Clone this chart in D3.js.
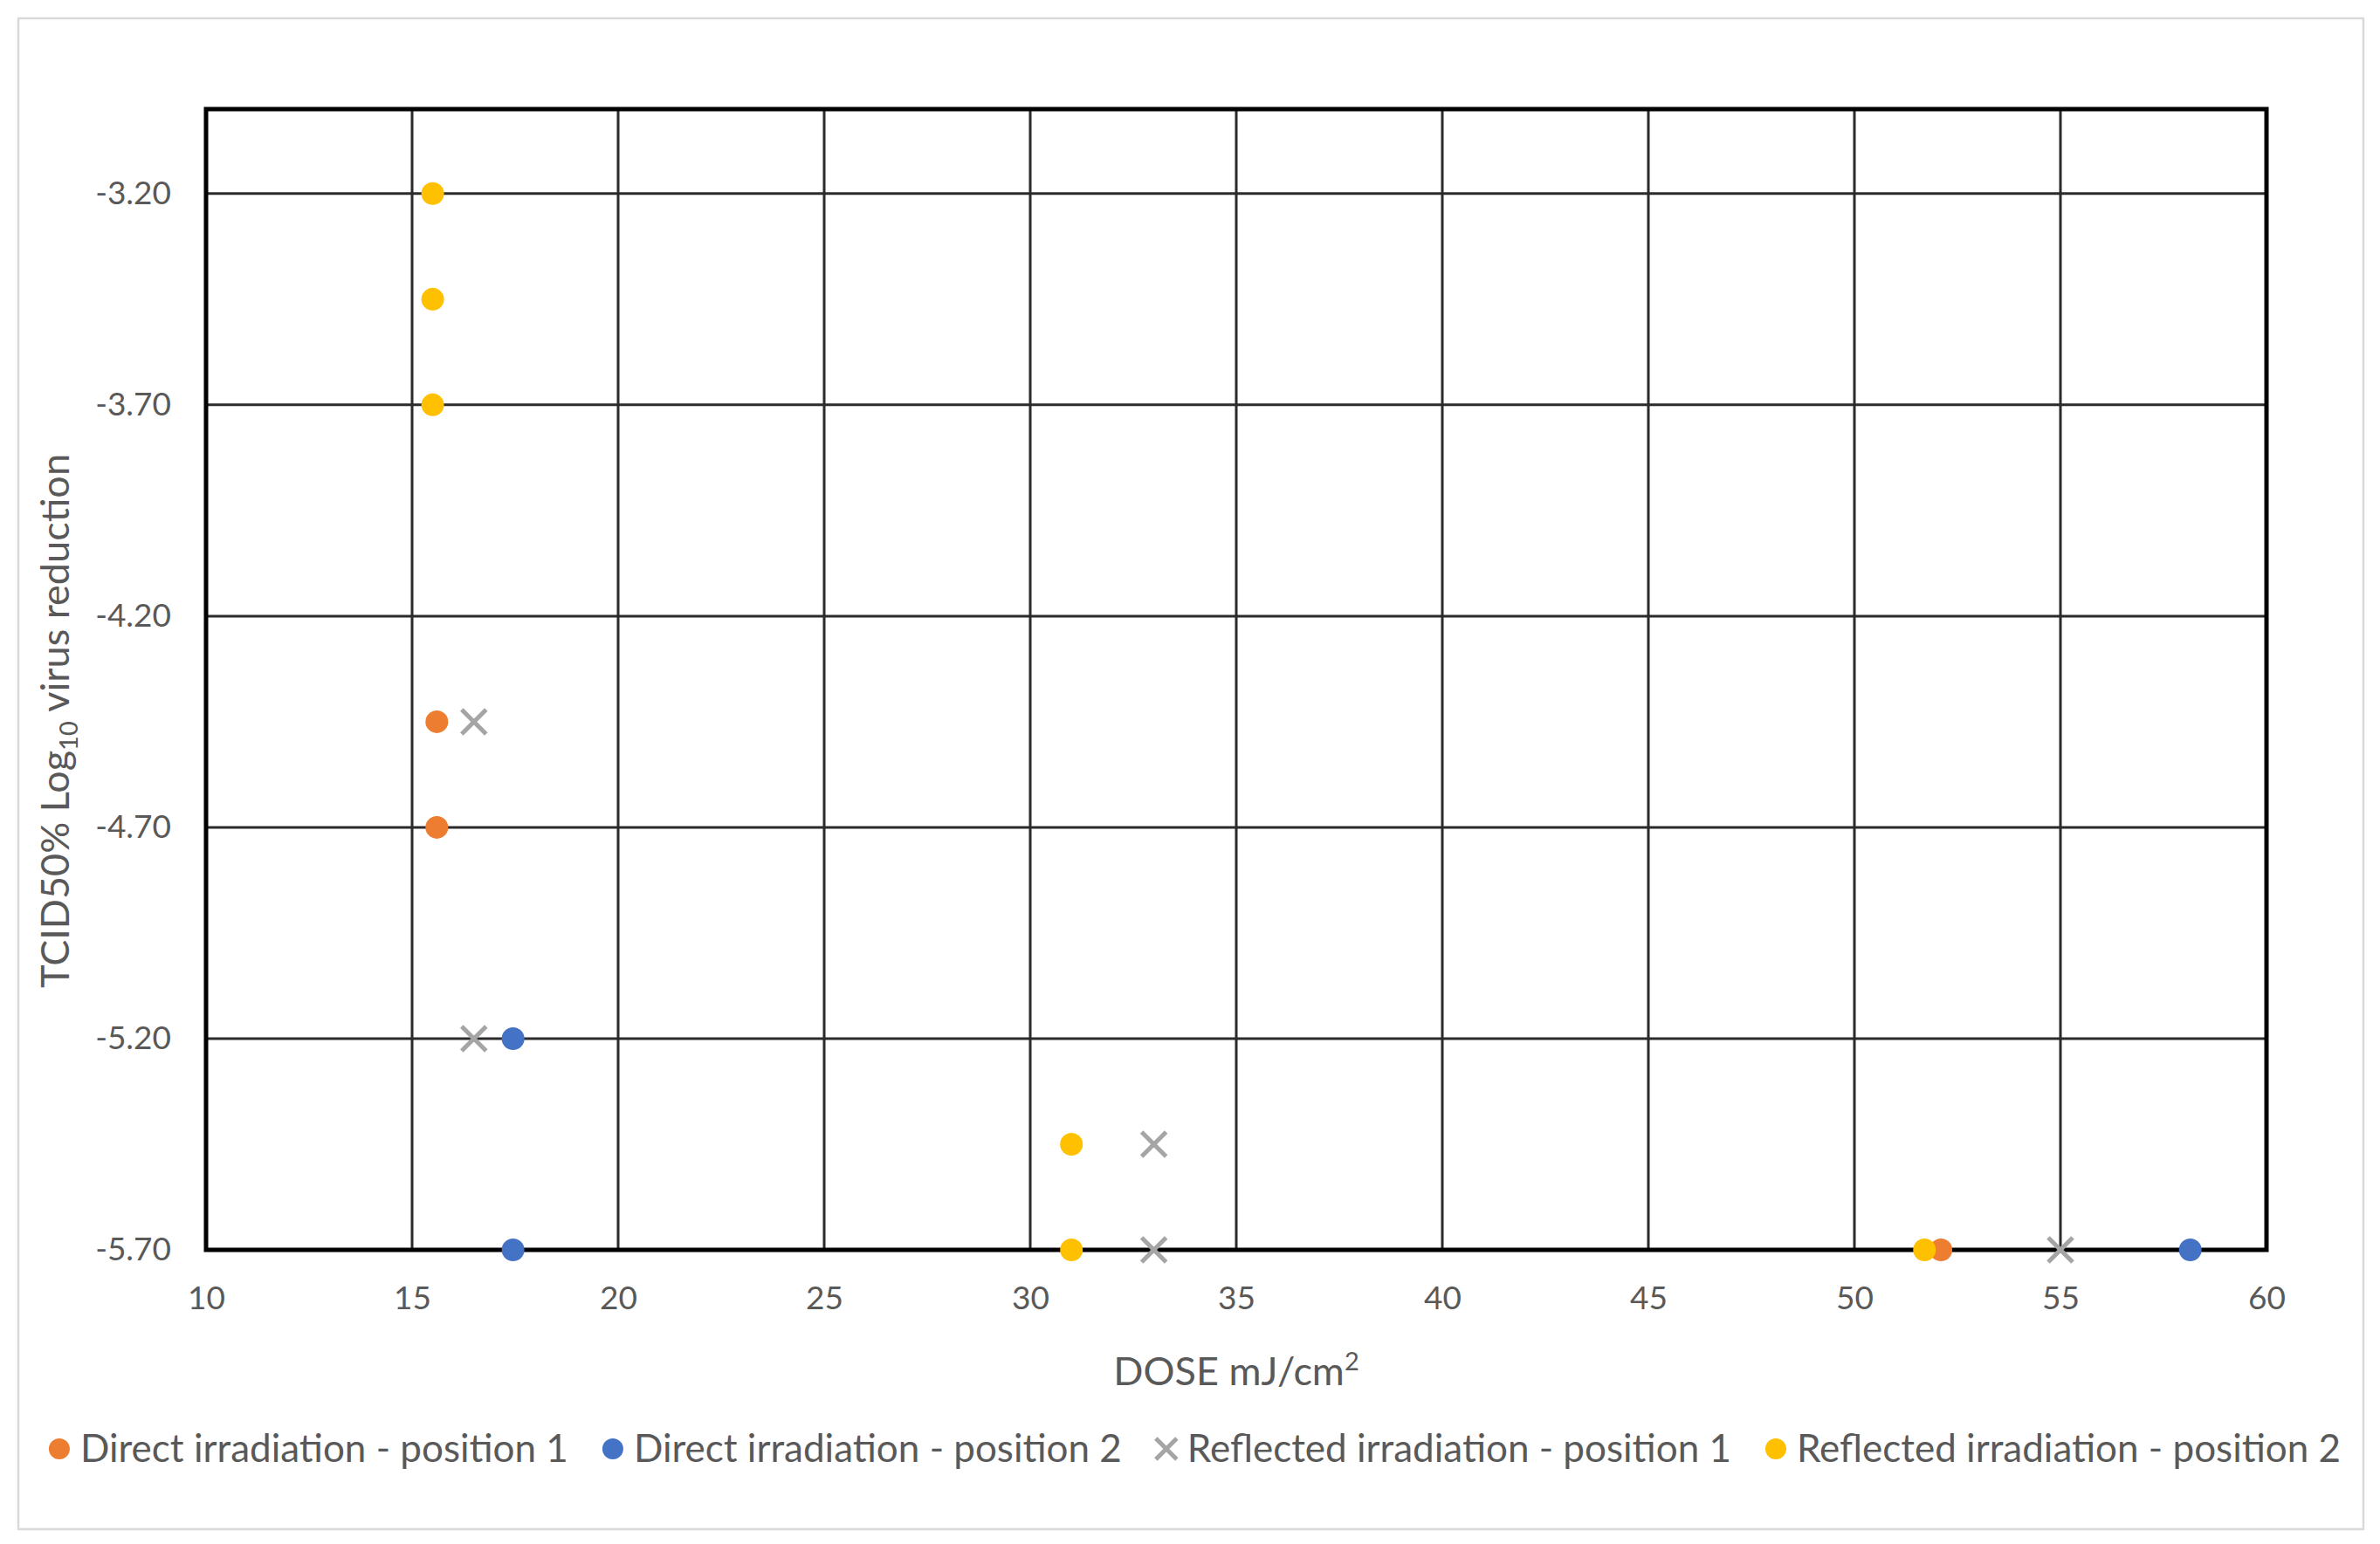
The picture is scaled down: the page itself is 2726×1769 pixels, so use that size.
<!DOCTYPE html>
<html>
<head>
<meta charset="utf-8">
<script src="https://cdn.jsdelivr.net/npm/d3@7"></script>
<style>
  html, body { margin: 0; padding: 0; background: #fff; overflow: hidden; }
  svg { display: block; }
  text { font-family: Lato, "Noto Sans", sans-serif; fill: #595959; }
</style>
</head>
<body>
<svg id="chart"></svg>
<script>
// Tick values
const xTicks = [10, 15, 20, 25, 30, 35, 40, 45, 50, 55, 60];
const yTicks = [-5.7, -5.2, -4.7, -4.2, -3.7, -3.2];

// Series (dose mJ/cm2, log10 reduction)
const directPos1 = [
  { x: 15.6, y: -4.45 }, { x: 15.6, y: -4.7 }, { x: 52.1, y: -5.7 }
];
const directPos2 = [
  { x: 17.45, y: -5.2 }, { x: 17.45, y: -5.7 }, { x: 58.15, y: -5.7 }
];
const reflectedPos1 = [
  { x: 16.5, y: -4.45 }, { x: 16.5, y: -5.2 }, { x: 33.0, y: -5.45 },
  { x: 33.0, y: -5.7 }, { x: 55.0, y: -5.7 }
];
const reflectedPos2 = [
  { x: 15.5, y: -3.2 }, { x: 15.5, y: -3.45 }, { x: 15.5, y: -3.7 },
  { x: 31.0, y: -5.45 }, { x: 31.0, y: -5.7 }, { x: 51.7, y: -5.7 }
];

const seriesNames = [
  'Direct irradiation - position 1',
  'Direct irradiation - position 2',
  'Reflected irradiation - position 1',
  'Reflected irradiation - position 2'
];
const seriesColors = ['#ED7D31', '#4472C4', '#A5A5A5', '#FFC000'];
const seriesShapes = ['circle', 'circle', 'cross', 'circle'];
const seriesData = [directPos1, directPos2, reflectedPos1, reflectedPos2];

const width = 2726, height = 1769;
const margin = { top: 125, right: 130, bottom: 337, left: 236 };
const innerWidth = width - margin.left - margin.right;
const innerHeight = height - margin.top - margin.bottom;

const svg = d3.select('#chart')
  .attr('width', width).attr('height', height)
  .attr('viewBox', `0 0 ${width} ${height}`);

// outer chart frame
svg.append('rect')
  .attr('x', 21).attr('y', 21)
  .attr('width', 2686).attr('height', 1731)
  .attr('fill', '#fff').attr('stroke', '#D9D9D9').attr('stroke-width', 2.5);

const xScale = d3.scaleLinear().domain([10, 60]).range([0, innerWidth]);
const yScale = d3.scaleLinear().domain([-5.7, -3.0]).range([innerHeight, 0]);

const chart = svg.append('g')
  .attr('transform', `translate(${margin.left}, ${margin.top})`);

// gridlines
chart.append('g').attr('class', 'grid-x')
  .selectAll('line').data(xTicks).enter().append('line')
  .attr('x1', d => xScale(d)).attr('x2', d => xScale(d))
  .attr('y1', 0).attr('y2', innerHeight)
  .attr('stroke', '#2b2b2b').attr('stroke-width', 3);

chart.append('g').attr('class', 'grid-y')
  .selectAll('line').data(yTicks).enter().append('line')
  .attr('x1', 0).attr('x2', innerWidth)
  .attr('y1', d => yScale(d)).attr('y2', d => yScale(d))
  .attr('stroke', '#2b2b2b').attr('stroke-width', 3);

// plot border
chart.append('rect')
  .attr('x', 0).attr('y', 0)
  .attr('width', innerWidth).attr('height', innerHeight)
  .attr('fill', 'none').attr('stroke', '#000').attr('stroke-width', 5);

// axes (labels only)
const xAxis = d3.axisBottom(xScale).tickValues(xTicks).tickSize(0).tickPadding(42);
const yAxis = d3.axisLeft(yScale).tickValues(yTicks).tickSize(0).tickPadding(40)
  .tickFormat(d => d.toFixed(2));

function styleAxis(g) {
  g.select('.domain').remove();
  g.attr('fill', null).attr('font-size', 37).attr('font-family', 'Lato');
  g.selectAll('text').attr('fill', '#595959').attr('font-size', 37);
}

chart.append('g')
  .attr('transform', `translate(0, ${innerHeight})`)
  .call(xAxis)
  .call(styleAxis);

chart.append('g')
  .call(yAxis)
  .call(styleAxis);

// axis titles
const xTitle = svg.append('text')
  .attr('x', margin.left + innerWidth / 2)
  .attr('y', 1587)
  .attr('text-anchor', 'middle')
  .attr('font-size', 45);
xTitle.append('tspan').text('DOSE mJ/cm');
xTitle.append('tspan').attr('dy', -17).attr('font-size', 29).text('2');

const yTitle = svg.append('text')
  .attr('transform', 'rotate(-90)')
  .attr('x', -826).attr('y', 79)
  .attr('text-anchor', 'middle')
  .attr('font-size', 45);
yTitle.append('tspan').text('TCID50% Log');
yTitle.append('tspan').attr('dy', 10).attr('font-size', 29).text('10');
yTitle.append('tspan').attr('dy', -10).text(' virus reduction');

// markers
function drawMarker(sel, shape, color, size) {
  if (shape === 'cross') {
    const h = size;
    sel.append('path')
      .attr('d', `M${-h},${-h}L${h},${h}M${-h},${h}L${h},${-h}`)
      .attr('stroke', color).attr('stroke-width', 5).attr('fill', 'none');
  } else {
    sel.append('circle').attr('r', size).attr('fill', color);
  }
}

const pts = chart.append('g').attr('class', 'points');
seriesData.forEach(function(data, i) {
  data.forEach(function(d) {
    const g = pts.append('g')
      .attr('transform', `translate(${xScale(d.x)}, ${yScale(d.y)})`);
    drawMarker(g, seriesShapes[i], seriesColors[i], seriesShapes[i] === 'cross' ? 14 : 13);
  });
});

// legend, centred on the frame
const legend = svg.append('g').attr('class', 'legend');
const legendY = 1660;
const legendGap = 38;
let cursor = 0;
seriesNames.forEach(function(name, i) {
  const item = legend.append('g');
  const sym = item.append('g').attr('transform', `translate(${cursor + 13}, 0)`);
  drawMarker(sym, seriesShapes[i], seriesColors[i], 12);
  const t = item.append('text')
    .attr('x', cursor + 37).attr('y', 0).attr('dy', '0.35em')
    .attr('font-size', 44).text(name);
  cursor += 37 + t.node().getComputedTextLength() + legendGap;
});
const legendWidth = cursor - legendGap;
legend.attr('transform', `translate(${21 + 2686 / 2 - legendWidth / 2 + 4}, ${legendY})`);
</script>
</body>
</html>
